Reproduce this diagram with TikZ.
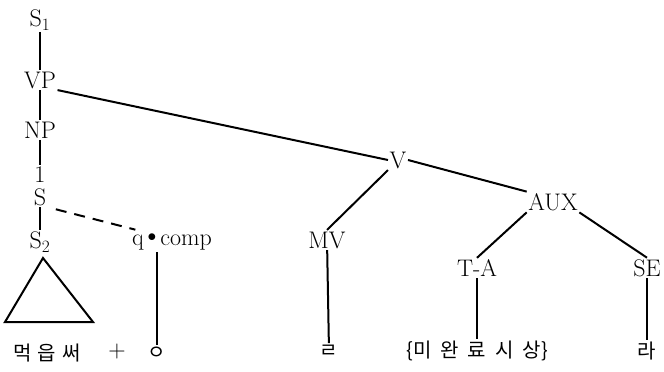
\documentclass[tikz,border=0pt]{standalone}
\usepackage{fontspec}
\newfontfamily\kor{Noto Sans CJK KR}
\begin{document}
\begin{tikzpicture}[x=1pt,y=-1pt,
  lbl/.style={font=\fontsize{24}{26}\selectfont, inner sep=1.5pt},
  kr/.style={font=\kor\fontsize{20}{22}\selectfont, inner sep=1.5pt},
  edge/.style={line width=2pt},
  dedge/.style={line width=2pt, dash pattern=on 11pt off 8pt}]
\useasboundingbox (0,0) rectangle (664,372);
\node[lbl] (S1) at (40,20) {S$_1$};
\node[lbl] (VP) at (40,80) {VP};
\node[lbl] (NP) at (40,130) {NP};
\node[lbl] (one) at (40,175) {1};
\node[lbl] (S) at (40,197) {S};
\node[lbl] (S2) at (40,242) {S$_2$};
\node[lbl] (qc) at (172,242) {q\,\raisebox{0.2em}{\scalebox{0.7}{$\bullet$}}\,comp};
\node[lbl] (V) at (398,160) {V};
\node[lbl] (MV) at (327,240) {MV};
\node[lbl] (AUX) at (553,202) {AUX};
\node[lbl] (TA) at (477,268) {T-A};
\node[lbl] (SE) at (647,268) {SE};
\node[kr] (w1) at (47,353) {먹\hspace{6pt}읍\hspace{6pt}써};
\node[lbl] (plus) at (117,352) {+};
\node[kr] (w2) at (157,353) {ㅇ};
\node[kr] (w3) at (329,351) {ㄹ};
\node[kr] (w4) at (477,351) {\{미\hspace{9pt}완\hspace{9pt}료\hspace{9pt}시\hspace{9pt}상\}};
\node[kr] (w5) at (647,351) {라};
\coordinate (tA) at (43,258);
\coordinate (tL) at (5,322);
\coordinate (tR) at (93,322);
\draw[edge] (S1) -- (VP);
\draw[edge] (VP) -- (NP);
\draw[edge] (NP) -- (one);
\draw[edge] (S) -- (S2);
\draw[edge, line join=miter] (tA) -- (tL) -- (tR) -- cycle;
\draw[dedge] ([xshift=8pt,yshift=-2pt]S.south east) -- ([xshift=5pt,yshift=2pt]qc.north west);
\draw[edge] (qc.south -| w2) -- (w2.north);
\draw[edge] (VP.south east) -- (V.west);
\draw[edge] (V.south west) -- (MV.north);
\draw[edge] (V.east) -- (AUX.north west);
\draw[edge] (AUX.south west) -- (TA.north);
\draw[edge] (AUX.south east) -- (SE.north);
\draw[edge] (MV) -- (w3);
\draw[edge] (TA) -- (w4);
\draw[edge] (SE) -- (w5);
\end{tikzpicture}
\end{document}
